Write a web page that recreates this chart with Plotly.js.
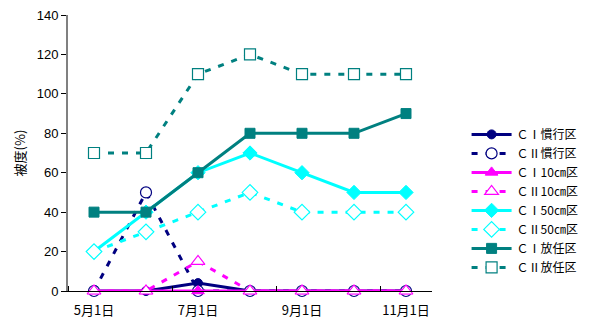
<!DOCTYPE html>
<html>
<head>
<meta charset="utf-8">
<script src="https://cdn.plot.ly/plotly-3.0.1.min.js"></script>
<style>
  html, body { margin: 0; padding: 0; background: #fff; }
  #chart { width: 595px; height: 321px; }
</style>
</head>
<body>
<div id="chart"></div>
<script>
// Survey dates (monthly), labelled every second month on the axis
const dates = ['5月1日', '6月1日', '7月1日', '8月1日', '9月1日', '10月1日', '11月1日'];
const labelDates = ['5月1日', '7月1日', '9月1日', '11月1日'];

// Coverage (%) per plot
const c1Conventional = [0, 0, 4, 0, 0, 0, 0];
const c2Conventional = [0, 50, 0, 0, 0, 0, 0];
const c1Cut10 = [0, 0, 0, 0, 0, 0, 0];
const c2Cut10 = [0, 0, 15, 0, 0, 0, 0];
const c1Cut50 = [20, 40, 60, 70, 60, 50, 50];
const c2Cut50 = [20, 30, 40, 50, 40, 40, 40];
const c1Free = [40, 40, 60, 80, 80, 80, 90];
const c2Free = [70, 70, 110, 120, 110, 110, 110];

const seriesNames = ['ＣⅠ慣行区', 'ＣⅡ慣行区', 'ＣⅠ10㎝区', 'ＣⅡ10㎝区',
                     'ＣⅠ50㎝区', 'ＣⅡ50㎝区', 'ＣⅠ放任区', 'ＣⅡ放任区'];

const xIdx = dates.map((d, i) => i);
const labelIdx = labelDates.map(d => dates.indexOf(d));

const NAVY = '#000080', MAGENTA = '#FF00FF', CYAN = '#00FFFF', TEAL = '#008080';
const DASH = '6px,8px';

function solid(name, y, color, symbol, size) {
  return {
    type: 'scatter', mode: 'lines+markers', name, x: xIdx, y,
    line: { color, width: 3 },
    marker: { symbol, size, color, line: { color, width: 1 } },
    cliponaxis: false
  };
}
function dashed(name, y, color, symbol, size) {
  return {
    type: 'scatter', mode: 'lines+markers', name, x: xIdx, y,
    line: { color, width: 3, dash: DASH },
    marker: { symbol, size, color: '#ffffff', line: { color, width: 1.2 } },
    cliponaxis: false
  };
}

const traces = [
  solid(seriesNames[0], c1Conventional, NAVY, 'circle', 9),
  dashed(seriesNames[1], c2Conventional, NAVY, 'circle', 11),
  solid(seriesNames[2], c1Cut10, MAGENTA, 'triangle-up', 11),
  dashed(seriesNames[3], c2Cut10, MAGENTA, 'triangle-up', 12),
  solid(seriesNames[4], c1Cut50, CYAN, 'diamond', 11),
  dashed(seriesNames[5], c2Cut50, CYAN, 'diamond', 12),
  solid(seriesNames[6], c1Free, TEAL, 'square', 10),
  dashed(seriesNames[7], c2Free, TEAL, 'square', 11)
];

const FONT = 'Liberation Sans, Arial, Noto Sans CJK JP, sans-serif';
const JP = 'Noto Sans CJK JP, sans-serif';

const layout = {
  width: 595, height: 321,
  margin: { l: 68, r: 163, t: 15, b: 30, autoexpand: false },
  paper_bgcolor: '#fff', plot_bgcolor: '#fff',
  font: { family: FONT, size: 13, color: '#000' },
  showlegend: true,
  legend: {
    x: 1.095, xanchor: 'left', y: 0.62, yanchor: 'top',
    font: { family: JP, size: 12, color: '#000' },
    tracegroupgap: 0, itemwidth: 40, bgcolor: 'rgba(0,0,0,0)'
  },
  xaxis: {
    range: [-0.5, 6.5], fixedrange: true,
    tickvals: labelIdx, ticktext: labelDates, ticks: '',
    ticklabelstandoff: 7,
    tickfont: { family: JP, size: 13 },
    minor: { tick0: -0.5, dtick: 2, ticks: 'inside', ticklen: 5, tickcolor: '#000', showgrid: false },
    showgrid: false, zeroline: false,
    showline: true, linecolor: '#000', linewidth: 1
  },
  yaxis: {
    range: [0, 140], dtick: 20, fixedrange: true,
    ticks: 'outside', ticklen: 5, tickcolor: '#000',
    showgrid: false, zeroline: false,
    showline: true, linecolor: '#808080', linewidth: 2,
    title: { text: '被度(%)', standoff: 8, font: { family: JP, size: 13 } }
  }
};

Plotly.newPlot('chart', traces, layout, { displayModeBar: false, staticPlot: true });
</script>
</body>
</html>
